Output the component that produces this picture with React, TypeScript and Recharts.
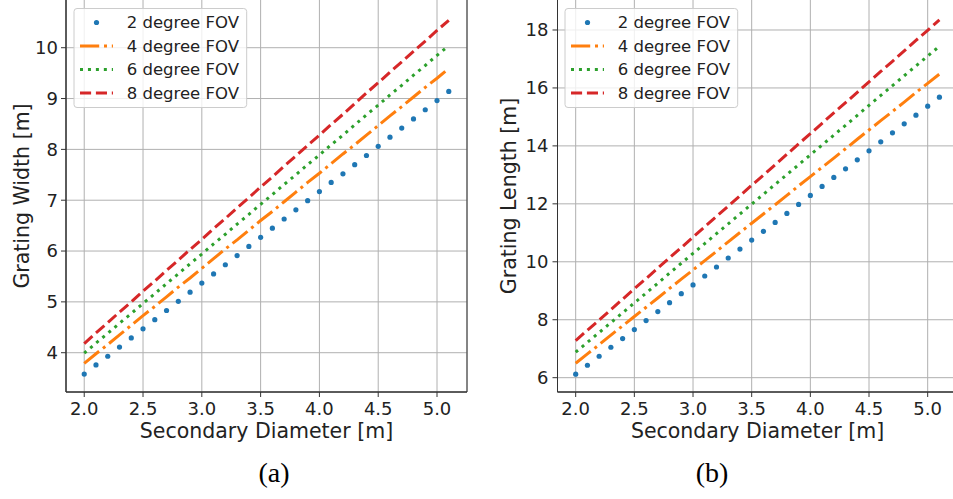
import React from 'react';
import { LineChart, Line, XAxis, YAxis, CartesianGrid, Legend, ReferenceArea, Label } from 'recharts';

const diameters = [2.0, 2.1, 2.2, 2.3, 2.4, 2.5, 2.6, 2.7, 2.8, 2.9, 3.0, 3.1, 3.2, 3.3, 3.4, 3.5, 3.6, 3.7, 3.8, 3.9, 4.0, 4.1, 4.2, 4.3, 4.4, 4.5, 4.6, 4.7, 4.8, 4.9, 5.0, 5.1];

const widthFov2 = [3.58, 3.76, 3.93, 4.11, 4.29, 4.47, 4.65, 4.83, 5.01, 5.19, 5.37, 5.55, 5.73, 5.91, 6.09, 6.27, 6.45, 6.63, 6.81, 6.99, 7.17, 7.35, 7.52, 7.70, 7.88, 8.06, 8.24, 8.42, 8.60, 8.78, 8.96, 9.14];
const widthFov4 = [3.79, 3.98, 4.16, 4.35, 4.54, 4.73, 4.91, 5.10, 5.29, 5.47, 5.66, 5.85, 6.04, 6.22, 6.41, 6.60, 6.78, 6.97, 7.16, 7.35, 7.53, 7.72, 7.91, 8.09, 8.28, 8.47, 8.66, 8.84, 9.03, 9.22, 9.40, 9.59];
const widthFov6 = [3.99, 4.19, 4.38, 4.58, 4.77, 4.97, 5.16, 5.36, 5.55, 5.75, 5.94, 6.14, 6.33, 6.53, 6.72, 6.92, 7.11, 7.31, 7.50, 7.70, 7.89, 8.09, 8.28, 8.48, 8.68, 8.87, 9.07, 9.26, 9.46, 9.65, 9.85, 10.04];
const widthFov8 = [4.18, 4.39, 4.59, 4.80, 5.00, 5.21, 5.41, 5.62, 5.82, 6.03, 6.23, 6.44, 6.64, 6.85, 7.05, 7.26, 7.46, 7.67, 7.87, 8.08, 8.28, 8.49, 8.69, 8.90, 9.11, 9.31, 9.52, 9.72, 9.93, 10.13, 10.34, 10.54];

const lengthFov2 = [6.12, 6.43, 6.74, 7.05, 7.35, 7.66, 7.97, 8.28, 8.59, 8.90, 9.20, 9.51, 9.82, 10.13, 10.44, 10.75, 11.05, 11.36, 11.67, 11.98, 12.29, 12.60, 12.91, 13.21, 13.52, 13.83, 14.14, 14.45, 14.76, 15.06, 15.37, 15.68];
const lengthFov4 = [6.50, 6.82, 7.14, 7.47, 7.79, 8.11, 8.43, 8.75, 9.08, 9.40, 9.72, 10.04, 10.36, 10.69, 11.01, 11.33, 11.65, 11.97, 12.29, 12.62, 12.94, 13.26, 13.58, 13.90, 14.23, 14.55, 14.87, 15.19, 15.51, 15.84, 16.16, 16.48];
const lengthFov6 = [6.88, 7.22, 7.56, 7.90, 8.24, 8.58, 8.92, 9.26, 9.61, 9.95, 10.29, 10.63, 10.97, 11.31, 11.65, 11.99, 12.33, 12.67, 13.01, 13.35, 13.69, 14.03, 14.37, 14.71, 15.05, 15.40, 15.74, 16.08, 16.42, 16.76, 17.10, 17.44];
const lengthFov8 = [7.28, 7.64, 7.99, 8.35, 8.71, 9.07, 9.42, 9.78, 10.14, 10.49, 10.85, 11.21, 11.57, 11.92, 12.28, 12.64, 12.99, 13.35, 13.71, 14.07, 14.42, 14.78, 15.14, 15.49, 15.85, 16.21, 16.57, 16.92, 17.28, 17.64, 17.99, 18.35];

const xTicks = [2.0, 2.5, 3.0, 3.5, 4.0, 4.5, 5.0];
const widthTicks = [4, 5, 6, 7, 8, 9, 10];
const lengthTicks = [6, 8, 10, 12, 14, 16, 18];

const fovNames = ['2 degree FOV', '4 degree FOV', '6 degree FOV', '8 degree FOV'];
const fovColors = ['#1f77b4', '#ff7f0e', '#2ca02c', '#d62728'];
const fovDashes = ['', '19.2 4.8 3 4.8', '3 4.95', '11.1 4.8'];

const widthRows = diameters.map((d, i) => ({ d, v2: widthFov2[i], v4: widthFov4[i], v6: widthFov6[i], v8: widthFov8[i] }));
const lengthRows = diameters.map((d, i) => ({ d, v2: lengthFov2[i], v4: lengthFov4[i], v6: lengthFov6[i], v8: lengthFov8[i] }));

const FONT = "'DejaVu Sans', sans-serif";
const X_DOMAIN: [number, number] = [1.845, 5.255];
const TEXT = '#222';

const LegendBox = () => (
  <svg width={176} height={104} style={{ display: 'block' }}>
    <rect x={1} y={2.5} width={172.7} height={99} rx={3} ry={3} fill="#ffffff" fillOpacity={0.8} stroke="#cccccc" strokeWidth={1} />
    {fovNames.map((name, i) => {
      const y = 16.5 + i * 23.5;
      return (
        <g key={name}>
          {i === 0 ? (
            <circle cx={23.5} cy={y} r={2.6} fill={fovColors[0]} />
          ) : (
            <line x1={7} x2={40} y1={y} y2={y} stroke={fovColors[i]} strokeWidth={3} strokeDasharray={fovDashes[i]} />
          )}
          <text x={53.7} y={y} dominantBaseline="central" fontFamily={FONT} fontSize={16.5} fill={TEXT}>{name}</text>
        </g>
      );
    })}
  </svg>
);

type PanelProps = {
  left: number;
  chartWidth: number;
  yAxisWidth: number;
  marginRight: number;
  yDomain: [number, number];
  yTicks: number[];
  yLabel: string;
  yLabelX: number;
  yTickMargin: number;
  legendLeft: number;
  rows: any[];
};

const Panel = ({ left, chartWidth, yAxisWidth, marginRight, yDomain, yTicks, yLabel, yLabelX, yTickMargin, legendLeft, rows }: PanelProps) => {
  const plotTop = -2;
  const plotBottom = 392;
  const cx = yAxisWidth + (chartWidth - yAxisWidth - marginRight) / 2;
  const cy = 196;
  return (
    <div style={{ position: 'absolute', left, top: 0 }}>
      <LineChart width={chartWidth} height={499} data={rows} margin={{ top: plotTop, right: marginRight, bottom: 0, left: 0 }}>
        <CartesianGrid stroke="#b0b0b0" strokeWidth={1} />
        <XAxis
          dataKey="d"
          type="number"
          domain={X_DOMAIN}
          ticks={xTicks}
          interval={0}
          allowDataOverflow
          height={499 - plotBottom}
          tickSize={5}
          tickMargin={5}
          tickFormatter={(v: number) => v.toFixed(1)}
          tick={{ fontSize: 18, fill: TEXT, fontFamily: FONT }}
          stroke="#333"
        >
          <Label
            content={() => (
              <text x={cx} y={437.5} textAnchor="middle" fontFamily={FONT} fontSize={20.5} fill={TEXT}>
                Secondary Diameter [m]
              </text>
            )}
          />
        </XAxis>
        <YAxis
          type="number"
          domain={yDomain}
          ticks={yTicks}
          interval={0}
          allowDataOverflow
          width={yAxisWidth}
          tickSize={5}
          tickMargin={yTickMargin}
          tick={{ fontSize: 18, fill: TEXT, fontFamily: FONT }}
          stroke="#333"
        >
          <Label
            content={() => (
              <text x={yLabelX} y={cy} transform={`rotate(-90, ${yLabelX}, ${cy})`} textAnchor="middle" fontFamily={FONT} fontSize={20.5} fill={TEXT}>
                {yLabel}
              </text>
            )}
          />
        </YAxis>
        <ReferenceArea x1={X_DOMAIN[0]} x2={X_DOMAIN[1]} y1={yDomain[0]} y2={yDomain[1]} fill="none" stroke="#333" strokeWidth={1} ifOverflow="visible" />
        <Line type="linear" dataKey="v2" name={fovNames[0]} stroke="none" strokeWidth={0} dot={{ r: 2.6, fill: fovColors[0], stroke: 'none', strokeWidth: 0 }} activeDot={false} isAnimationActive={false} />
        <Line type="linear" dataKey="v4" name={fovNames[1]} stroke={fovColors[1]} strokeWidth={3} strokeDasharray={fovDashes[1]} dot={false} activeDot={false} isAnimationActive={false} />
        <Line type="linear" dataKey="v6" name={fovNames[2]} stroke={fovColors[2]} strokeWidth={3} strokeDasharray={fovDashes[2]} dot={false} activeDot={false} isAnimationActive={false} />
        <Line type="linear" dataKey="v8" name={fovNames[3]} stroke={fovColors[3]} strokeWidth={3} strokeDasharray={fovDashes[3]} dot={false} activeDot={false} isAnimationActive={false} />
        <Legend
          layout="vertical"
          align="center"
          verticalAlign="middle"
          wrapperStyle={{ left: legendLeft, top: 6, width: 176, height: 104 }}
          content={() => <LegendBox />}
        />
      </LineChart>
    </div>
  );
};

export default function App() {
  return (
    <div style={{ position: 'absolute', left: 0, top: 0, width: 953, height: 499, overflow: 'hidden', background: '#fff' }}>
      <Panel
        left={0}
        chartWidth={480}
        yAxisWidth={66}
        marginRight={13}
        yDomain={[3.227, 10.978]}
        yTicks={widthTicks}
        yLabel="Grating Width [m]"
        yLabelX={29}
        yTickMargin={3}
        legendLeft={73}
        rows={widthRows}
      />
      <Panel
        left={480}
        chartWidth={480}
        yAxisWidth={77.5}
        marginRight={2.4}
        yDomain={[5.506, 19.104]}
        yTicks={lengthTicks}
        yLabel="Grating Length [m]"
        yLabelX={35.5}
        yTickMargin={4}
        legendLeft={84}
        rows={lengthRows}
      />
      <svg width={953} height={499} style={{ position: 'absolute', left: 0, top: 0, pointerEvents: 'none' }}>
        <text x={274} y={482} textAnchor="middle" fontFamily="'Liberation Serif', 'Times New Roman', serif" fontSize={28} fill="#000">(a)</text>
        <text x={712} y={482} textAnchor="middle" fontFamily="'Liberation Serif', 'Times New Roman', serif" fontSize={28} fill="#000">(b)</text>
      </svg>
    </div>
  );
}
